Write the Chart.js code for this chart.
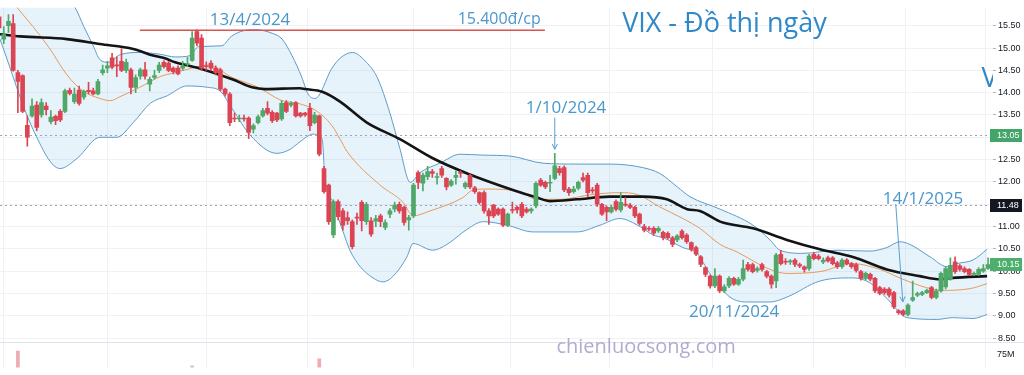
<!DOCTYPE html>
<html>
<head>
<meta charset="utf-8">
<title>VIX - Đồ thị ngày</title>
<script src="https://cdn.jsdelivr.net/npm/chart.js@4.4.1/dist/chart.umd.min.js"></script>
<style>
  html, body { margin: 0; padding: 0; background: #fff; }
  #wrap { position: relative; width: 1024px; height: 375px; }
</style>
</head>
<body>
<div id="wrap"><canvas id="chart-vix"></canvas></div>
<script>
/* ─── Candles (one per session, index = position) ─────────── */
const opens = [
  15.7,15.2,15.5,15.55,14.45,14.38,13.27,13.48,13.72,13.5,
  13.7,13.35,13.47,13.58,13.58,14.05,13.8,14.06,13.9,14.05,
  14.04,13.97,14.45,14.55,14.78,14.62,14.7,14.5,14.51,14.12,
  14.37,14.51,14.19,14.34,14.5,14.68,14.66,14.55,14.55,14.55,
  14.63,14.72,15.37,15.22,14.6,14.66,14.55,14.51,14.08,13.97,
  13.42,13.41,13.42,13.43,13.18,13.33,13.48,13.65,13.56,13.54,
  13.41,13.78,13.72,13.78,13.54,13.54,13.65,13.33,13.48,12.3,
  11.93,10.81,11.56,11.35,11.2,11.11,11.2,11.54,11.11,11.13,
  11.12,11.24,10.98,11.28,11.39,11.5,11.43,11.15,11.24,12.21,
  11.97,12.12,12.23,12.1,12.3,12.08,11.93,12.1,12.2,11.89,
  12.15,11.87,11.76,11.76,11.35,11.48,11.39,11.39,11.03,11.37,
  11.43,11.5,11.39,11.35,11.46,12.04,11.99,11.97,12.08,12.3,
  12.32,11.84,11.78,11.86,12.1,12.15,11.81,11.93,11.5,11.43,
  11.33,11.56,11.37,11.5,11.48,11.43,11.28,11.0,10.96,10.96,
  10.9,10.87,10.85,10.75,10.7,10.9,10.81,10.64,10.53,10.32,
  10.08,9.89,9.67,9.89,9.56,9.67,9.84,9.71,9.82,10.15,
  10.15,10.02,10.15,9.99,9.89,9.78,10.38,10.21,10.21,10.25,
  10.15,10.1,10.06,10.38,10.34,10.21,10.3,10.3,10.19,10.1,
  10.25,10.17,10.15,9.99,9.84,9.93,9.84,9.63,9.6,9.6,
  9.52,9.11,9.11,9.03,9.35,9.46,9.48,9.52,9.63,9.41,
  9.56,9.65,9.82,10.21,10.12,10.06,10.04,9.93,9.93,10.0,10.06
];
const highs = [
  15.85,15.48,15.75,15.75,14.5,14.4,13.48,13.86,13.8,13.86,
  13.78,13.6,13.5,13.62,14.08,14.1,14.1,14.15,14.06,14.23,
  14.1,14.3,14.62,14.7,14.88,14.8,14.98,14.75,14.55,14.4,
  14.55,14.68,14.35,14.5,14.68,14.72,14.7,14.58,14.6,14.7,
  14.79,15.37,15.41,15.3,14.69,14.72,14.6,14.55,14.1,14.0,
  13.54,13.5,13.5,13.46,13.3,13.5,13.65,13.8,13.6,13.56,
  13.82,13.82,13.8,13.8,13.56,13.56,13.76,13.56,13.5,12.35,
  11.95,11.6,11.6,11.4,11.33,11.15,11.3,11.58,11.54,11.2,
  11.25,11.28,11.15,11.4,11.55,11.55,11.46,11.25,11.97,12.25,
  12.2,12.35,12.28,12.2,12.35,12.1,12.05,12.25,12.25,12.0,
  12.18,11.9,11.78,11.8,11.4,11.5,11.42,11.42,11.3,11.55,
  11.46,11.54,11.43,11.42,12.0,12.08,12.02,12.15,12.64,12.35,
  12.36,11.88,11.9,12.02,12.2,12.2,11.88,11.97,11.52,11.46,
  11.48,11.6,11.76,11.65,11.52,11.46,11.3,11.05,11.0,11.0,
  11.0,10.9,10.88,10.78,10.82,10.93,10.84,10.66,10.56,10.35,
  10.1,9.92,10.06,9.92,9.7,9.88,9.87,9.86,10.25,10.2,
  10.18,10.1,10.18,10.02,9.92,10.4,10.47,10.28,10.26,10.28,
  10.18,10.12,10.38,10.42,10.38,10.3,10.34,10.33,10.22,10.28,
  10.28,10.2,10.18,10.02,9.98,9.96,9.86,9.66,9.63,9.63,
  9.55,9.14,9.14,9.27,9.78,9.53,9.55,9.6,9.66,9.6,
  9.98,10.1,10.3,10.32,10.15,10.1,10.06,9.98,10.08,10.15,10.3
];
const lows = [
  15.4,15.1,15.35,14.48,13.55,13.55,12.8,13.45,13.15,13.45,
  13.5,13.3,13.28,13.35,13.55,13.95,13.76,13.72,13.85,13.97,
  13.95,13.95,14.4,14.45,14.53,14.36,14.47,14.45,13.97,14.0,
  14.3,14.3,14.04,14.3,14.45,14.55,14.47,14.42,14.4,14.5,
  14.58,14.7,15.05,14.5,14.5,14.5,14.4,14.04,13.92,13.26,
  13.35,13.35,13.36,12.97,13.1,13.3,13.45,13.5,13.33,13.35,
  13.38,13.55,13.68,13.45,13.45,13.47,13.15,13.3,12.58,11.75,
  11.05,10.75,11.15,10.92,11.05,10.5,11.05,10.9,11.05,10.78,
  11.0,11.0,10.93,11.2,11.33,11.3,11.03,10.92,11.2,11.85,
  11.8,12.05,12.1,11.95,12.1,11.82,11.9,11.95,12.1,11.85,
  11.85,11.74,11.5,11.3,11.05,11.2,11.25,11.0,11.0,11.3,
  11.3,11.2,11.3,11.3,11.42,11.9,11.85,11.78,12.05,12.15,
  11.78,11.7,11.75,11.82,12.0,11.67,11.75,11.45,11.25,11.13,
  11.3,11.35,11.33,11.45,11.4,11.2,11.03,10.88,10.9,10.8,
  10.87,10.7,10.72,10.55,10.66,10.72,10.62,10.45,10.35,10.1,
  9.88,9.62,9.63,9.52,9.52,9.63,9.68,9.68,9.78,10.0,
  9.96,9.98,10.0,9.85,9.62,9.63,10.14,10.15,10.15,10.1,
  10.08,9.98,10.02,10.25,10.25,10.17,10.2,10.14,10.06,10.06,
  10.14,10.06,9.98,9.8,9.8,9.78,9.52,9.47,9.48,9.42,
  9.16,9.03,9.0,9.0,9.32,9.43,9.45,9.5,9.38,9.38,
  9.53,9.6,9.8,9.95,10.0,9.96,9.9,9.9,9.9,9.97,10.04
];
const closes = [
  15.45,15.3,15.6,14.5,14.25,13.58,13.0,13.7,13.22,13.78,
  13.62,13.45,13.37,13.39,14.04,13.98,13.97,13.76,14.03,14.02,
  13.97,14.25,14.51,14.6,14.57,14.6,14.5,14.68,14.12,14.34,
  14.51,14.37,14.3,14.38,14.62,14.58,14.5,14.47,14.42,14.6,
  14.64,15.22,15.11,14.55,14.58,14.55,14.45,14.08,13.97,13.33,
  13.41,13.42,13.41,13.11,13.26,13.46,13.6,13.54,13.37,13.39,
  13.76,13.58,13.76,13.48,13.48,13.5,13.26,13.5,12.62,11.78,
  11.11,11.56,11.22,11.03,11.13,10.55,11.19,11.13,11.5,10.83,
  11.18,11.11,11.09,11.35,11.48,11.35,11.09,11.2,11.93,11.99,
  12.15,12.23,12.19,12.11,12.15,11.89,12.02,12.15,12.19,11.97,
  11.89,11.78,11.54,11.35,11.24,11.24,11.28,11.03,11.28,11.36,
  11.37,11.24,11.33,11.39,11.97,11.93,11.89,11.99,12.36,12.21,
  11.82,11.76,11.84,11.99,12.04,11.76,11.8,11.5,11.28,11.33,
  11.43,11.39,11.54,11.48,11.43,11.24,11.07,10.92,10.94,10.85,
  10.96,10.75,10.75,10.6,10.79,10.75,10.66,10.49,10.38,10.15,
  9.93,9.67,9.89,9.56,9.65,9.84,9.71,9.82,10.06,10.04,
  9.99,10.06,10.04,9.89,9.71,10.36,10.17,10.2,10.22,10.15,
  10.12,10.04,10.34,10.28,10.28,10.25,10.23,10.17,10.1,10.25,
  10.17,10.1,10.02,9.84,9.95,9.82,9.56,9.5,9.52,9.46,
  9.2,9.07,9.03,9.24,9.41,9.5,9.52,9.57,9.41,9.56,
  9.95,10.06,10.13,9.99,10.04,9.99,9.93,9.95,10.04,10.06,10.15
];

/* ─── Indicators as [index, price] ──── */
const bbUpper = [
  [0.2,16.6],[12,16.3],[16.1,15.91],[18,15.48],[20,15.05],[21.4,14.74],[23.2,14.68],
  [25.7,14.85],[29.9,14.9],[34.2,14.86],[37.4,14.8],[40.6,14.83],[42.3,15.03],
  [47.3,15.05],[49.3,15.26],[52,15.39],[54.4,15.41],[58,15.33],[60.1,15.2],
  [62.2,14.83],[64.3,14.34],[65.6,13.97],[67.1,13.87],[70.7,14.55],[72.4,14.77],
  [75,14.9],[78,14.68],[80.3,14.34],[83,13.54],[85.1,12.75],[87.3,11.99],
  [89.4,12.21],[93.6,12.42],[97.9,12.62],[102.8,12.6],[108.5,12.58],[115.5,12.42],
  [122.7,12.4],[129.7,12.4],[136.7,12.32],[140.3,12.19],[144,11.89],[146.7,11.67],
  [153.1,11.39],[160.1,11.03],[163.7,10.7],[165.8,10.47],[170.7,10.4],[177.9,10.47],
  [184.9,10.45],[188.5,10.53],[191.3,10.66],[193.4,10.6],[197.7,10.32],[201.3,10.1],
  [203.4,10.17],[206.8,10.25],[209.8,10.49]
];
const bbLower = [
  [0.2,15.2],[7.2,13.18],[12.95,12.3],[16.6,12.53],[21.4,13.0],[25,13.0],[28.5,13.33],
  [32.1,13.76],[35.7,13.93],[39.9,14.15],[44.2,14.12],[46.9,14.04],[49.7,13.61],
  [53.3,13.05],[59,12.64],[61.8,12.73],[63.9,12.9],[66.7,13.07],[68.6,12.96],
  [69.2,12.1],[70.9,11.54],[73,10.9],[74.5,10.47],[76.7,10.1],[79.4,9.85],
  [81.5,9.76],[83.7,9.89],[86.6,10.32],[87.9,10.62],[92.1,10.47],[95.1,10.6],
  [99.4,10.94],[102.8,11.11],[107.9,11.03],[113.4,10.88],[122.7,10.88],[127.6,11.03],
  [131.8,11.18],[136.1,11.0],[138.9,10.81],[141,10.75],[145.2,10.53],[148.2,10.4],
  [150.9,9.95],[155.2,9.42],[158.8,9.31],[163.7,9.31],[167.3,9.42],[174.3,9.78],
  [181.3,9.85],[184.9,9.74],[188.5,9.39],[192.8,8.96],[199.2,8.92],[202.5,8.96],
  [206.8,8.94],[209.8,9.03]
];
const bbBasis = [
  [0.2,16.4],[3.8,15.91],[7.2,15.48],[10.8,14.98],[14.4,14.4],[17.8,14.04],[21.4,13.87],
  [23.6,13.82],[25.7,13.91],[29.9,14.12],[34.2,14.36],[37.4,14.45],[41,14.55],
  [44.4,14.62],[49.5,14.34],[55,14.12],[60.1,13.82],[63.5,13.76],[67.1,13.61],
  [70.7,13.26],[72.4,12.96],[73.9,12.68],[80.9,11.93],[85.8,11.54],[87.9,11.24],
  [91.5,11.35],[98.5,11.65],[100.6,11.82],[103.6,11.84],[110.6,11.78],[114.2,11.61],
  [119.1,11.61],[126.1,11.72],[131.8,11.76],[135.5,11.72],[140.3,11.44],[145.2,11.18],
  [148.8,10.96],[153.1,10.6],[156.7,10.43],[163.7,10.04],[167.3,9.95],[174.3,9.99],
  [181.3,10.17],[187,10.04],[191.9,9.82],[197,9.63],[200.4,9.57],[206.2,9.61],[209.8,9.72]
];
const maSlow = [
  [0.2,15.31],[4.5,15.26],[14.4,15.2],[21.4,15.09],[28.5,14.98],[32.7,14.83],[35.2,14.77],
  [37.4,14.68],[42.3,14.55],[49.5,14.3],[53.7,14.12],[56.5,14.08],[63.9,14.1],[65,14.08],
  [68.6,14.02],[72.4,13.8],[78.1,13.33],[85.1,12.96],[92.1,12.53],[99.4,12.19],
  [109.1,11.82],[114.2,11.65],[117,11.57],[122.7,11.61],[129.7,11.67],[136.7,11.67],
  [141.8,11.61],[146.1,11.39],[148.8,11.35],[153.1,11.11],[160.1,10.96],[167.3,10.7],
  [174.3,10.49],[181.3,10.32],[188.5,10.04],[195.5,9.89],[199.8,9.82],[202.5,9.85],[209.8,9.89]
];

/* volume spikes that reach into the visible part of the lower pane (millions) */
const volIdx = [4, 41, 68];
const volVal = [82, 48, 64];

/* resistance 15.400 drawn from 13/4/2024 */
const resistance = { from: 29.9, to: 115.9, price: 15.4 };

/* axes */
const yTicks = [8.5, 9, 9.5, 10, 10.5, 11, 11.5, 12, 12.5, 13, 13.5, 14, 14.5, 15, 15.5];
const hiddenTickLabels = [13, 11.5];
const monthLines = [12, 34, 54, 77, 99, 118.3, 141, 162, 184, 201];

/* price tags on the right scale */
const priceTags = [
  { price: 13.05, bg: '#43a56a', dashed: true },
  { price: 11.48, bg: '#131722', dashed: true },
  { price: 10.15, bg: '#4caf6e', dashed: false },
];

/* texts placed at [index, price] */
const notes = [
  { text: '13/4/2024',        at: [53.3, 15.63],  size: 17, color: '#4a97cc', align: 'center' },
  { text: '15.400đ/cp',       at: [106.2, 15.63], size: 16, color: '#4a97cc', align: 'center' },
  { text: 'VIX - Đồ thị ngày', at: [132.3, 15.52], size: 27, color: '#2f88c8', align: 'left' },
  { text: 'V',                at: [208.6, 14.3],  size: 27, color: '#2f88c8', align: 'left' },
  { text: '1/10/2024',        at: [120.4, 13.65], size: 17, color: '#4a97cc', align: 'center' },
  { text: '14/1/2025',        at: [196.2, 11.61], size: 17, color: '#4a97cc', align: 'center' },
  { text: '20/11/2024',       at: [156.1, 9.09],  size: 17, color: '#4a97cc', align: 'center' },
  { text: 'chienluocsong.com', at: [137.4, 8.3],  size: 20, color: '#b3abcf', align: 'center' },
];
const arrows = [
  { from: [118.0, 13.44], to: [118.0, 12.73] },
  { from: [190.4, 11.5],  to: [191.9, 9.31] },
];

/* ─── Styling ─────────────────────────────────────────────── */
const UP = '#4fa868';
const DOWN = '#dc4453';
const BB_LINE = '#5b9bc9';
const BB_FILL = 'rgba(120,190,232,0.18)';
const GRID = '#eff1f5';

const pts = arr => arr.map(([x, y]) => ({ x, y }));
const idx = opens.map((_, i) => i);
const candleColor = idx.map(i => closes[i] >= opens[i] ? UP : DOWN);

/* ─── Overlay plugin: price lines, texts, arrows, tags ───── */
const overlay = {
  id: 'overlay',
  beforeDatasetsDraw(chart) {
    const { ctx, chartArea: a, scales: { y } } = chart;
    ctx.save();
    ctx.strokeStyle = '#e0e3eb';
    ctx.lineWidth = 1;
    const sepY = Math.round(a.bottom - 26) + 0.5;
    ctx.beginPath(); ctx.moveTo(0, sepY); ctx.lineTo(chart.width, sepY); ctx.stroke();

    ctx.setLineDash([2, 3]);
    ctx.strokeStyle = '#9ea3ad';
    priceTags.filter(p => p.dashed).forEach(p => {
      const py = Math.round(y.getPixelForValue(p.price)) + 0.5;
      ctx.beginPath(); ctx.moveTo(a.left, py); ctx.lineTo(a.right, py); ctx.stroke();
    });
    ctx.restore();
  },
  afterDatasetsDraw(chart) {
    const { ctx, chartArea: a, scales: { x, y } } = chart;
    ctx.save();
    ctx.beginPath(); ctx.rect(a.left, a.top, a.right - a.left, a.bottom - a.top); ctx.clip();
    ctx.textBaseline = 'middle';
    notes.forEach(n => {
      ctx.font = `${n.size}px "Open Sans", sans-serif`;
      ctx.fillStyle = n.color;
      ctx.textAlign = n.align;
      ctx.fillText(n.text, x.getPixelForValue(n.at[0]), y.getPixelForValue(n.at[1]));
    });

    ctx.strokeStyle = '#5a9fd0';
    ctx.lineWidth = 1;
    arrows.forEach(ar => {
      const x1 = x.getPixelForValue(ar.from[0]), y1 = y.getPixelForValue(ar.from[1]);
      const x2 = x.getPixelForValue(ar.to[0]),   y2 = y.getPixelForValue(ar.to[1]);
      const ang = Math.atan2(y2 - y1, x2 - x1);
      ctx.beginPath(); ctx.moveTo(x1, y1); ctx.lineTo(x2, y2); ctx.stroke();
      ctx.beginPath();
      ctx.moveTo(x2 - 6 * Math.cos(ang - 0.45), y2 - 6 * Math.sin(ang - 0.45));
      ctx.lineTo(x2, y2);
      ctx.lineTo(x2 - 6 * Math.cos(ang + 0.45), y2 - 6 * Math.sin(ang + 0.45));
      ctx.stroke();
    });
    ctx.restore();
  },
  afterDraw(chart) {
    const { ctx, chartArea: a, scales: { y, yv } } = chart;
    ctx.save();
    ctx.font = '9px "Liberation Sans", sans-serif';
    ctx.textBaseline = 'middle';
    ctx.textAlign = 'left';
    priceTags.forEach(p => {
      const py = Math.round(y.getPixelForValue(p.price));
      ctx.fillStyle = p.bg;
      ctx.fillRect(a.right - 3, py - 6, chart.width - a.right + 1, 13);
      ctx.fillStyle = '#fff';
      ctx.fillText(p.price.toFixed(2), a.right + 4, py + 0.5);
    });
    ctx.fillStyle = '#131722';
    ctx.fillText('75M', a.right + 4, yv.getPixelForValue(75));
    ctx.restore();
  }
};

/* ─── Chart ───────────────────────────────────────────────── */
new Chart(document.getElementById('chart-vix').getContext('2d'), {
  type: 'bar',
  data: {
    datasets: [
      {
        type: 'line', data: pts(bbUpper), borderColor: BB_LINE, borderWidth: 1,
        backgroundColor: BB_FILL, fill: '+1', pointRadius: 0,
        cubicInterpolationMode: 'monotone', order: 10,
      },
      {
        type: 'line', data: pts(bbLower), borderColor: BB_LINE, borderWidth: 1,
        fill: false, pointRadius: 0, cubicInterpolationMode: 'monotone', order: 10,
      },
      {
        type: 'line', data: pts(bbBasis), borderColor: '#e8995a', borderWidth: 1,
        fill: false, pointRadius: 0, cubicInterpolationMode: 'monotone', order: 9,
      },
      {
        type: 'line',
        data: [{ x: resistance.from, y: resistance.price }, { x: resistance.to, y: resistance.price }],
        borderColor: '#d9534f', borderWidth: 1.5, pointRadius: 0, fill: false, order: 9,
      },
      {
        type: 'line', data: pts(maSlow), borderColor: '#141414', borderWidth: 2.6,
        fill: false, pointRadius: 0, cubicInterpolationMode: 'monotone', order: 8,
      },
      {
        data: idx.map(i => ({ x: i, y: [lows[i], highs[i]] })),
        backgroundColor: candleColor, barThickness: 1, grouped: false, order: 2,
      },
      {
        data: idx.map(i => ({ x: i, y: [opens[i], closes[i]] })),
        backgroundColor: candleColor, barThickness: 4, minBarLength: 1, grouped: false, order: 1,
      },
      {
        data: volIdx.map((v, k) => ({ x: v, y: volVal[k] })),
        backgroundColor: volIdx.map(v => closes[v] >= opens[v] ? 'rgba(79,168,104,0.45)' : 'rgba(220,68,83,0.45)'),
        barThickness: 3, grouped: false, yAxisID: 'yv', order: 3,
      },
    ],
  },
  options: {
    responsive: true,
    maintainAspectRatio: false,
    animation: false,
    layout: { padding: 0 },
    plugins: { legend: { display: false }, tooltip: { enabled: false } },
    scales: {
      x: {
        type: 'linear', min: 0.2, max: 211.05, offset: false,
        afterBuildTicks: s => { s.ticks = monthLines.map(v => ({ value: v })); },
        afterFit: s => { s.height = 0; },
        ticks: { display: false },
        grid: { color: GRID, drawTicks: false },
        border: { display: false },
      },
      y: {
        position: 'right', min: 7.84, max: 15.91,
        afterBuildTicks: s => { s.ticks = yTicks.map(v => ({ value: v })); },
        afterFit: s => { s.width = 31; },
        ticks: {
          color: '#131722', padding: 2,
          font: { family: '"Liberation Sans", sans-serif', size: 9 },
          callback: v => hiddenTickLabels.includes(v) ? '' : v.toFixed(2),
        },
        grid: { color: GRID, tickColor: '#b2b5be', tickLength: 3 },
        border: { display: false },
      },
      yv: { display: false, min: 44, max: 871 },
    },
  },
  plugins: [overlay],
});
</script>
</body>
</html>
